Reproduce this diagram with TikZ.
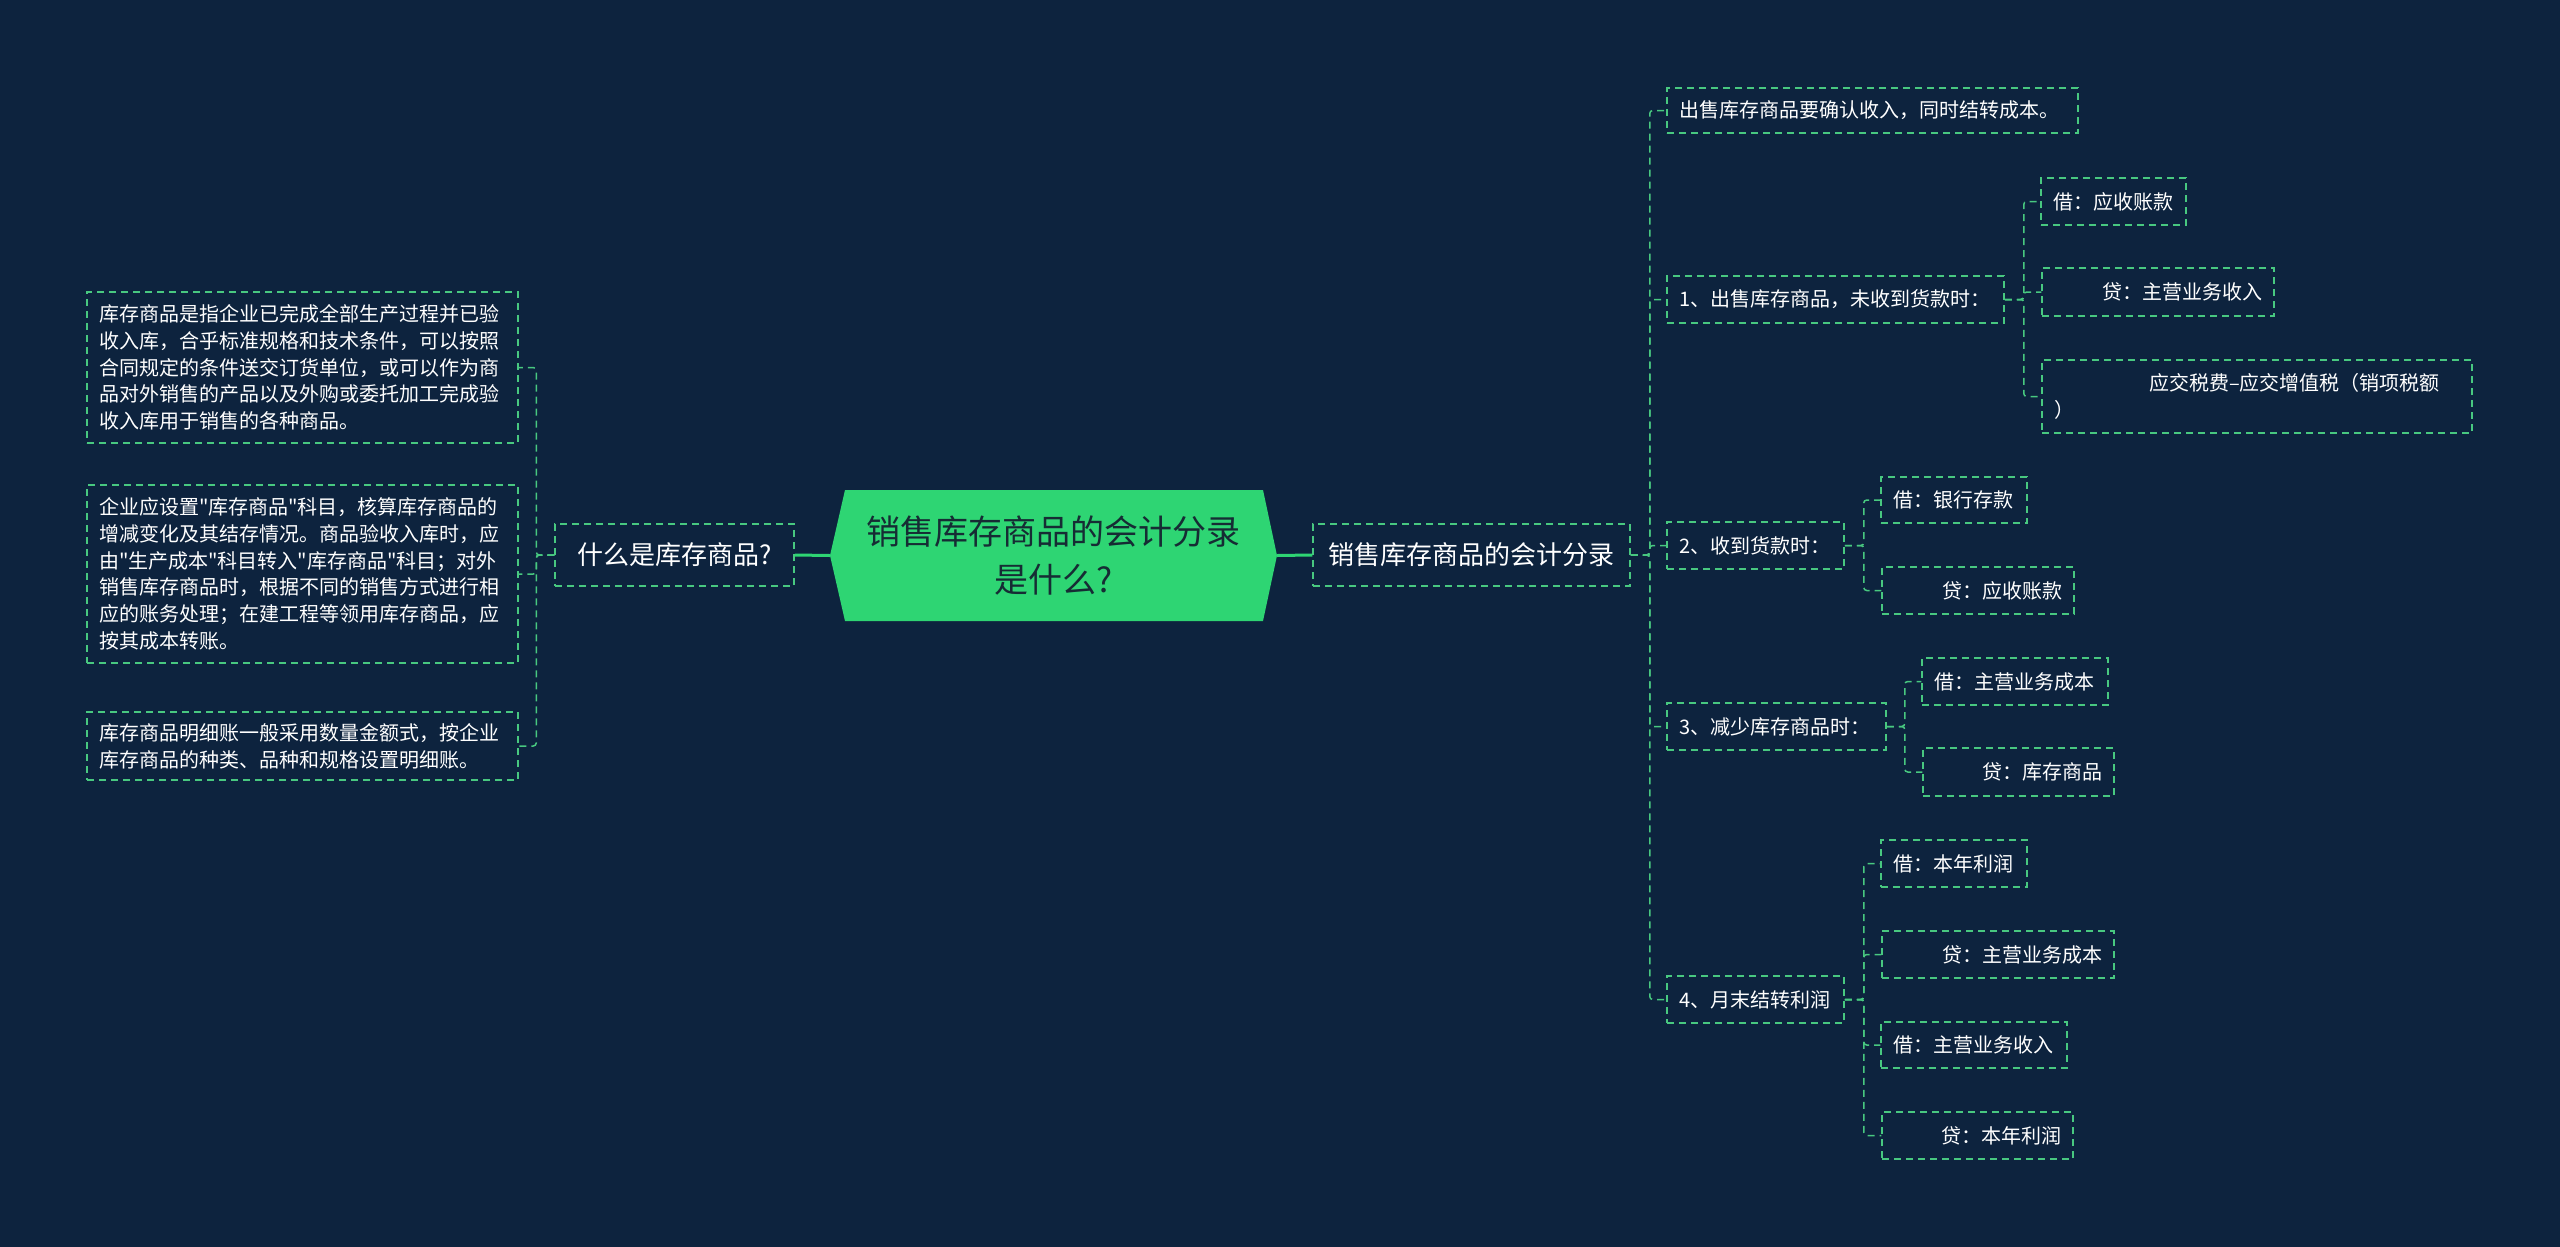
\documentclass[tikz,border=0pt]{standalone}
\usepackage{fontspec}
\setmainfont{Noto Sans CJK SC}
\newfontfamily\cjk{Noto Sans CJK SC}
\definecolor{bgc}{RGB}{13,35,62}
\definecolor{gfill}{RGB}{46,213,115}
\definecolor{gline}{RGB}{72,200,128}
\definecolor{rtext}{RGB}{22,44,52}
\begin{document}
\begin{tikzpicture}[x=1pt,y=-1pt,
  box/.style={draw=gline, line width=1.5pt, dash pattern=on 7pt off 5pt, rectangle,
    inner xsep=12pt, inner ysep=0pt, text=white, font=\cjk\fontsize{20}{26.75}\selectfont},
  lbox/.style={box, align=left},
  rbox/.style={box, align=right},
  topic/.style={draw=gline, line width=1.5pt, dash pattern=on 7pt off 5pt, rectangle,
    inner sep=0pt, text=white, font=\cjk\fontsize{26}{32}\selectfont, align=center},
  link/.style={draw=gline, line width=1.5pt, dash pattern=on 7pt off 5pt, rounded corners=3pt},
  mainlink/.style={draw=gfill, line width=3pt},
]
\useasboundingbox (0,0) rectangle (2560,1247);
\fill[bgc] (0,0) rectangle (2560,1247);

% root
\fill[gfill] (830,555.5) -- (845,490) -- (1263,490) -- (1277,555.5) -- (1263,621) -- (845,621) -- cycle;
\node[inner sep=0pt, minimum width=447pt, minimum height=131pt, text=rtext, align=center,
  font=\cjk\fontsize{34}{48}\selectfont] (root) at (1053.5,555.5) {销售库存商品的会计分录\\是什么?};

% level 1
\node[topic, minimum width=239pt, minimum height=62pt] (L) at (674.5,555) {什么是库存商品?};
\node[topic, minimum width=317pt, minimum height=62pt] (R) at (1471.5,555) {销售库存商品的会计分录};

% left leaves
\node[lbox, text width=407pt, minimum height=151pt] (k1) at (302.5,367.5)
 {库存商品是指企业已完成全部生产过程并已验\\收入库，合乎标准规格和技术条件，可以按照\\合同规定的条件送交订货单位，或可以作为商\\品对外销售的产品以及外购或委托加工完成验\\收入库用于销售的各种商品。};
\node[lbox, text width=407pt, minimum height=178pt] (k2) at (302.5,574)
 {企业应设置"库存商品"科目，核算库存商品的\\增减变化及其结存情况。商品验收入库时，应\\由"生产成本"科目转入"库存商品"科目；对外\\销售库存商品时，根据不同的销售方式进行相\\应的账务处理；在建工程等领用库存商品，应\\按其成本转账。};
\node[lbox, text width=407pt, minimum height=68pt] (k3) at (302.5,746)
 {库存商品明细账一般采用数量金额式，按企业\\库存商品的种类、品种和规格设置明细账。};

% right level 2
\node[lbox, text width=387pt, minimum height=45pt] (A) at (1872.5,110.5) {出售库存商品要确认收入，同时结转成本。};
\node[lbox, text width=313pt, minimum height=47pt] (B) at (1835.5,299.5) {1、出售库存商品，未收到货款时：};
\node[lbox, text width=153pt, minimum height=47pt] (C) at (1755.5,545.5) {2、收到货款时：};
\node[lbox, text width=195pt, minimum height=47pt] (D) at (1776.5,726.5) {3、减少库存商品时：};
\node[lbox, text width=153pt, minimum height=47pt] (E) at (1755.5,999.5) {4、月末结转利润};

% level 3
\node[lbox, text width=121pt, minimum height=47pt] (B1) at (2113.5,201.5) {借：应收账款};
\node[rbox, text width=208pt, minimum height=48pt] (B2) at (2158,292) {贷：主营业务收入};
\node[lbox, text width=406pt, minimum height=73pt] (B3) at (2257,396.5) {\hspace*{95pt}应交税费–应交增值税（销项税额\\）};
\node[lbox, text width=122pt, minimum height=46pt] (C1) at (1954,500) {借：银行存款};
\node[rbox, text width=168pt, minimum height=47pt] (C2) at (1978,590.5) {贷：应收账款};
\node[lbox, text width=162pt, minimum height=47pt] (D1) at (2015,681.5) {借：主营业务成本};
\node[rbox, text width=167pt, minimum height=48pt] (D2) at (2018.5,772) {贷：库存商品};
\node[lbox, text width=122pt, minimum height=47pt] (E1) at (1954,863.5) {借：本年利润};
\node[rbox, text width=208pt, minimum height=47pt] (E2) at (1998,954.5) {贷：主营业务成本};
\node[lbox, text width=162pt, minimum height=46pt] (E3) at (1974,1045) {借：主营业务收入};
\node[rbox, text width=167pt, minimum height=47pt] (E4) at (1977.5,1135.5) {贷：本年利润};

% connectors
\draw[mainlink] (L.east) -- (root.west);
\draw[mainlink] (root.east) -- (R.west);
\foreach \n in {k1,k2,k3} \draw[link] (L.west) -- ++(-18,0) |- (\n.east);
\foreach \n in {A,B,C,D,E} \draw[link] (R.east) -- ++(19,0) |- (\n.west);
\foreach \n in {B1,B2,B3} \draw[link] (B.east) -- ++(19,0) |- (\n.west);
\foreach \n in {C1,C2} \draw[link] (C.east) -- ++(19,0) |- (\n.west);
\foreach \n in {D1,D2} \draw[link] (D.east) -- ++(18,0) |- (\n.west);
\foreach \n in {E1,E2,E3,E4} \draw[link] (E.east) -- ++(19,0) |- (\n.west);
\end{tikzpicture}
\end{document}
